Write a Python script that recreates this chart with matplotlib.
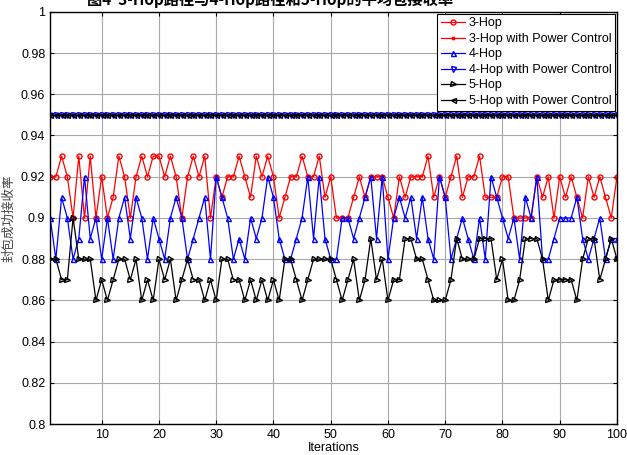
import numpy as np
import matplotlib.pyplot as plt

plt.rcParams['font.family'] = ['Liberation Sans', 'Noto Sans CJK SC', 'DejaVu Sans']

# 数据
iterations = np.arange(1, 101)

hop3 = [0.92, 0.92, 0.93, 0.92, 0.90, 0.93, 0.90, 0.93, 0.90, 0.92,
        0.90, 0.91, 0.93, 0.92, 0.90, 0.92, 0.93, 0.92, 0.93, 0.93,
        0.92, 0.93, 0.92, 0.90, 0.92, 0.93, 0.92, 0.93, 0.90, 0.92,
        0.91, 0.92, 0.92, 0.93, 0.92, 0.91, 0.93, 0.92, 0.93, 0.92,
        0.90, 0.91, 0.92, 0.92, 0.93, 0.92, 0.92, 0.93, 0.91, 0.92,
        0.90, 0.90, 0.90, 0.91, 0.92, 0.91, 0.92, 0.92, 0.92, 0.91,
        0.90, 0.92, 0.91, 0.92, 0.92, 0.92, 0.93, 0.91, 0.92, 0.91,
        0.92, 0.93, 0.91, 0.92, 0.92, 0.93, 0.91, 0.91, 0.91, 0.92,
        0.92, 0.90, 0.90, 0.90, 0.90, 0.92, 0.91, 0.92, 0.90, 0.92,
        0.91, 0.92, 0.91, 0.90, 0.92, 0.91, 0.92, 0.91, 0.90, 0.92]

hop4 = [0.90, 0.88, 0.91, 0.90, 0.88, 0.89, 0.92, 0.89, 0.90, 0.88,
        0.90, 0.88, 0.90, 0.91, 0.89, 0.91, 0.90, 0.88, 0.90, 0.89,
        0.88, 0.90, 0.91, 0.90, 0.88, 0.89, 0.90, 0.91, 0.88, 0.92,
        0.91, 0.90, 0.88, 0.89, 0.88, 0.90, 0.89, 0.90, 0.92, 0.91,
        0.89, 0.88, 0.88, 0.89, 0.90, 0.92, 0.89, 0.92, 0.89, 0.88,
        0.88, 0.90, 0.90, 0.89, 0.90, 0.91, 0.92, 0.89, 0.92, 0.88,
        0.90, 0.91, 0.90, 0.91, 0.89, 0.91, 0.89, 0.88, 0.92, 0.91,
        0.88, 0.89, 0.90, 0.89, 0.88, 0.90, 0.88, 0.92, 0.91, 0.90,
        0.89, 0.90, 0.88, 0.91, 0.90, 0.92, 0.88, 0.88, 0.89, 0.90,
        0.90, 0.90, 0.91, 0.89, 0.88, 0.89, 0.90, 0.88, 0.89, 0.89]

hop5 = [0.88, 0.88, 0.87, 0.87, 0.90, 0.88, 0.88, 0.88, 0.86, 0.87,
        0.86, 0.87, 0.88, 0.88, 0.87, 0.88, 0.86, 0.87, 0.86, 0.88,
        0.87, 0.88, 0.86, 0.87, 0.88, 0.87, 0.87, 0.86, 0.87, 0.86,
        0.88, 0.88, 0.87, 0.87, 0.86, 0.87, 0.86, 0.87, 0.86, 0.87,
        0.86, 0.88, 0.88, 0.87, 0.86, 0.87, 0.88, 0.88, 0.88, 0.88,
        0.87, 0.86, 0.87, 0.88, 0.86, 0.87, 0.89, 0.87, 0.88, 0.86,
        0.87, 0.87, 0.89, 0.89, 0.88, 0.88, 0.87, 0.86, 0.86, 0.86,
        0.87, 0.89, 0.88, 0.88, 0.88, 0.89, 0.89, 0.89, 0.87, 0.88,
        0.86, 0.86, 0.87, 0.89, 0.89, 0.89, 0.88, 0.86, 0.87, 0.87,
        0.87, 0.87, 0.86, 0.88, 0.89, 0.89, 0.87, 0.88, 0.89, 0.88]

# 功率控制后的接收率 (三条线都是0.95)
pc_level = 0.95
hop3_pc = [pc_level] * 100
hop4_pc = [pc_level] * 100
hop5_pc = [pc_level] * 100

fig = plt.figure(figsize=(6.27, 4.55), dpi=100)
ax = fig.add_axes([0.080, 0.068, 0.904, 0.906])

ms = 3.6
ax.plot(iterations, hop3, color='red', marker='o', markersize=ms, mfc='none', lw=0.9, label='3-Hop')
ax.plot(iterations, hop3_pc, color='red', marker='.', markersize=ms, lw=0.9, label='3-Hop with Power Control')
ax.plot(iterations, hop4, color='blue', marker='^', markersize=ms, mfc='none', lw=0.9, label='4-Hop')
ax.plot(iterations, hop4_pc, color='blue', marker='v', markersize=ms, mfc='none', lw=0.9, label='4-Hop with Power Control')
ax.plot(iterations, hop5, color='black', marker='>', markersize=ms, mfc='none', lw=0.9, label='5-Hop')
ax.plot(iterations, hop5_pc, color='black', marker='<', markersize=ms, mfc='none', lw=0.9, label='5-Hop with Power Control')

ax.set_xlim(1, 100)
ax.set_ylim(0.8, 1.0)
ax.set_xticks(np.arange(10, 101, 10))
ax.set_yticks(np.arange(0.8, 1.001, 0.02))
ax.set_yticklabels(['0.8', '0.82', '0.84', '0.86', '0.88', '0.9', '0.92', '0.94', '0.96', '0.98', '1'])
ax.tick_params(direction='in', top=True, right=True, labelsize=9, length=3)
ax.grid(True, color='#a8a8a8', lw=0.8)
for s in ax.spines.values():
    s.set_linewidth(1.0)

ax.set_xlabel('Iterations', fontsize=9, labelpad=1)
ax.set_ylabel('封包成功接收率', fontsize=9, color='#444444', labelpad=4)

leg = ax.legend(loc='upper right', fontsize=9, fancybox=False, framealpha=1,
                edgecolor='black', borderaxespad=0.15, handlelength=1.9,
                handletextpad=0.3, labelspacing=0.28, borderpad=0.3)
leg.get_frame().set_linewidth(0.8)

fig.text(0.43, 1.0, '图4  3-Hop路径与4-Hop路径和5-Hop的平均包接收率', ha='center', va='center',
         fontsize=11, fontweight='bold', family=['Noto Sans CJK SC', 'DejaVu Sans'])

fig.savefig('out.png', dpi=100)
